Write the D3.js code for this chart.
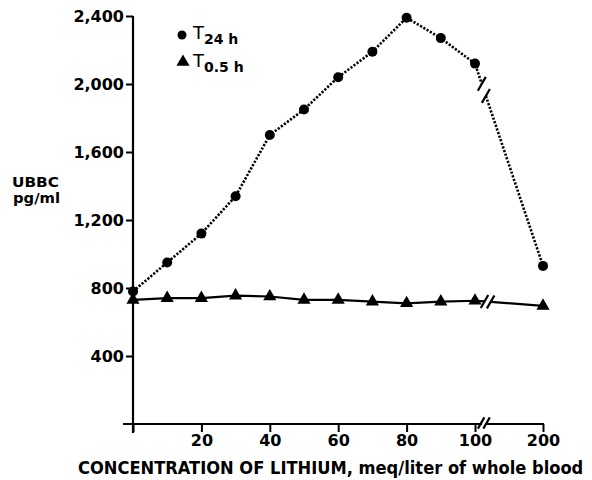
<!DOCTYPE html>
<html>
<head>
<meta charset="utf-8">
<script src="https://cdn.jsdelivr.net/npm/d3@7"></script>
<style>
  html, body { margin: 0; padding: 0; background: #fff; }
  svg { display: block; }
  text { font-family: "DejaVu Sans", sans-serif; fill: #000; }
</style>
</head>
<body>
<svg id="chart" width="592" height="480"></svg>
<script>
// ---- data ----
const concentrations = [0, 10, 20, 30, 40, 50, 60, 70, 80, 90, 100, 200];
const t24h = [780, 950, 1120, 1340, 1700, 1850, 2040, 2190, 2390, 2270, 2120, 930];
const t05h = [730, 740, 740, 755, 750, 730, 730, 720, 710, 720, 725, 695];
const xTickValues = [0, 20, 40, 60, 80, 100, 200];
const xTickLabels = ["", "20", "40", "60", "80", "100", "200"];
const yTickValues = [400, 800, 1200, 1600, 2000, 2400];
const yTickLabels = ["400", "800", "1,200", "1,600", "2,000", "2,400"];

const svg = d3.select("#chart");

// broken (polylinear) x scale
const x = d3.scaleLinear().domain([0, 100, 200]).range([133, 475, 543]);
const y = d3.scaleLinear().domain([0, 2400]).range([424, 16]);

// ---- axes ----
const yAxis = d3.axisLeft(y).tickValues(yTickValues)
  .tickFormat((d, i) => yTickLabels[i]).tickSize(7).tickSizeOuter(0);
const gy = svg.append("g").attr("transform", `translate(${x(0)},0)`).call(yAxis);
gy.select(".domain").remove();
gy.selectAll(".tick line").attr("stroke", "#000").attr("stroke-width", 2);
gy.selectAll(".tick text").attr("x", -9).attr("dy", "0.36em")
  .style("font-size", "16px").style("font-weight", "bold").style("font-family", "DejaVu Sans");
// y axis line (extends slightly below x axis)
svg.append("line").attr("x1", x(0)).attr("x2", x(0)).attr("y1", y(2400)).attr("y2", y(0) + 9)
  .attr("stroke", "#000").attr("stroke-width", 2.2);

const xAxis = d3.axisBottom(x).tickValues(xTickValues)
  .tickFormat((d, i) => xTickLabels[i]).tickSize(8).tickSizeOuter(0);
const gx = svg.append("g").attr("transform", `translate(0,${y(0)})`).call(xAxis);
gx.select(".domain").remove();
gx.selectAll(".tick line").attr("stroke", "#000").attr("stroke-width", 2);
gx.selectAll(".tick text").attr("y", 11)
  .style("font-size", "16px").style("font-weight", "bold").style("font-family", "DejaVu Sans");

// slash helper
function slash(cx, cy, len, ang) {
  const dx = Math.cos(ang) * len / 2, dy = Math.sin(ang) * len / 2;
  svg.append("line").attr("x1", cx - dx).attr("y1", cy + dy)
    .attr("x2", cx + dx).attr("y2", cy - dy)
    .attr("stroke", "#000").attr("stroke-width", 2.2);
}
const ANG = Math.PI / 3;

// x axis line with break
const xb1 = x(100) + 0.09 * (x(200) - x(100));
const xb2 = x(100) + 0.17 * (x(200) - x(100));
svg.append("line").attr("x1", x(0) - 10).attr("x2", xb1 + 1).attr("y1", y(0)).attr("y2", y(0))
  .attr("stroke", "#000").attr("stroke-width", 2.2);
svg.append("line").attr("x1", xb2 - 1).attr("x2", x(200) + 1).attr("y1", y(0)).attr("y2", y(0))
  .attr("stroke", "#000").attr("stroke-width", 2.2);
slash(xb1, y(0) - 1, 13, ANG);
slash(xb2, y(0) - 1, 13, ANG);

// ---- series with break between 100 and 200 ----
function drawSeries(values, style, t1, t2, slashLen) {
  const pts = concentrations.map((c, i) => [x(c), y(values[i])]);
  const n = pts.length;
  const a = pts[n - 2], b = pts[n - 1];
  const lerp = t => [a[0] + t * (b[0] - a[0]), a[1] + t * (b[1] - a[1])];
  const g1 = lerp(t1), g2 = lerp(t2);
  const line = d3.line();
  const seg1 = pts.slice(0, n - 1).concat([g1]);
  const seg2 = [g2, b];
  [seg1, seg2].forEach(seg => {
    const p = svg.append("path").attr("d", line(seg)).attr("fill", "none")
      .attr("stroke", "#000");
    if (style === "dotted") {
      p.attr("stroke-width", 2.6).attr("stroke-dasharray", "2.2,1.6");
    } else {
      p.attr("stroke-width", 2.2);
    }
  });
  slash(g1[0], g1[1], slashLen, ANG);
  slash(g2[0], g2[1], slashLen, ANG);
  return pts;
}

const p24 = drawSeries(t24h, "dotted", 0.10, 0.16, 16);
const p05 = drawSeries(t05h, "solid", 0.14, 0.23, 15);

svg.append("g").selectAll("circle").data(p24).join("circle")
  .attr("cx", d => d[0]).attr("cy", d => d[1]).attr("r", 5).attr("fill", "#000");

const tri = d3.symbol().type(d3.symbolTriangle).size(75);
svg.append("g").selectAll("path").data(p05).join("path")
  .attr("d", tri).attr("transform", d => `translate(${d[0]},${d[1]})`).attr("fill", "#000");

// ---- legend ----
svg.append("circle").attr("cx", 182).attr("cy", 35).attr("r", 4.5).attr("fill", "#000");
const l1 = svg.append("text").attr("x", 193).attr("y", 39).style("font-size", "18px");
l1.append("tspan").text("T");
l1.append("tspan").attr("dy", 5).style("font-size", "14px").style("font-weight", "bold").text("24 h");

svg.append("path").attr("d", tri).attr("transform", "translate(183,62)").attr("fill", "#000");
const l2 = svg.append("text").attr("x", 193).attr("y", 67).style("font-size", "18px");
l2.append("tspan").text("T");
l2.append("tspan").attr("dy", 5).style("font-size", "14px").style("font-weight", "bold").text("0.5 h");

// ---- axis titles ----
svg.append("text").attr("x", 12).attr("y", 187).attr("textLength", 47)
  .attr("lengthAdjust", "spacingAndGlyphs")
  .style("font-size", "14px").style("font-weight", "bold").text("UBBC");
svg.append("text").attr("x", 13).attr("y", 203).attr("textLength", 47)
  .attr("lengthAdjust", "spacingAndGlyphs")
  .style("font-size", "14px").style("font-weight", "bold").text("pg/ml");

const xTitle = svg.append("text").attr("x", 78).attr("y", 474)
  .style("font-family", "'DejaVu Sans Condensed', 'DejaVu Sans', sans-serif")
  .style("font-stretch", "condensed")
  .style("font-size", "19px").style("font-weight", "bold")
  .text("CONCENTRATION OF LITHIUM, meq/liter of whole blood");
const natural = xTitle.node().getComputedTextLength();
if (natural > 506) {
  xTitle.style("font-size", (19 * 506 / natural).toFixed(2) + "px");
}
</script>
</body>
</html>
